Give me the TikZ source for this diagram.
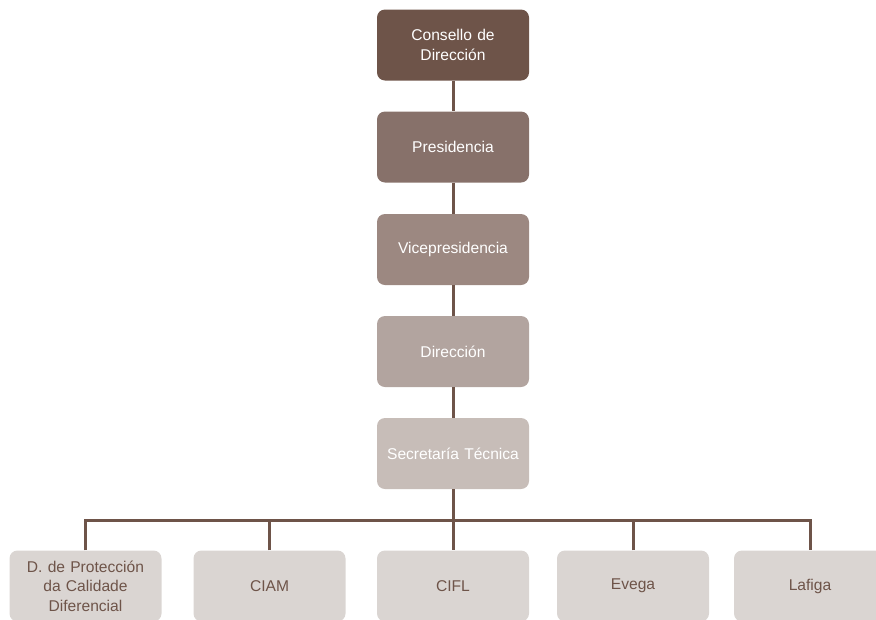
\documentclass[tikz,border=0pt]{standalone}
\usepackage{fontspec}
\setmainfont{Liberation Sans}
\definecolor{cA}{HTML}{6E5449}
\definecolor{cB}{HTML}{87716A}
\definecolor{cC}{HTML}{9C8881}
\definecolor{cD}{HTML}{B2A49F}
\definecolor{cE}{HTML}{C7BDB8}
\definecolor{cF}{HTML}{DAD5D2}
\definecolor{lineC}{HTML}{6E5449}
\tikzset{
  box/.style={rounded corners=8pt, minimum width=152pt, minimum height=71pt, inner xsep=1pt, inner ysep=2pt,
    text width=150pt, align=center, font=\fontsize{15.6}{19.5}\selectfont, text=white},
  low/.style={box, fill=cF, text=lineC},
  conn/.style={draw=lineC, line width=3pt}
}
\begin{document}
\begin{tikzpicture}[x=1pt,y=1pt]
\useasboundingbox (0,0) rectangle (876,-619);
\clip (0,0) rectangle (876,-619);
\node[box, fill=cA] (n1) at (453,-45) {Consello de\\Dirección};
\node[box, fill=cB] (n2) at (453,-147) {Presidencia};
\node[box, fill=cC] (n3) at (453,-249.5) {Vicepresidencia};
\node[box, fill=cD] (n4) at (453,-351.5) {Dirección};
\node[box, fill=cE] (n5) at (453,-453.5) {Secretaría Técnica};
\node[low] (b1) at (85.5,-586) {D. de Protección\\da Calidade\\Diferencial};
\node[low] (b2) at (269.5,-586) {CIAM};
\node[low] (b3) at (453,-586) {CIFL};
\node[low] (b4) at (633,-586) {Evega};
\node[low] (b5) at (810,-586) {Lafiga};
\coordinate (bus) at (453,-520);
\draw[conn] (n1.south) -- (n2.north);
\draw[conn] (n2.south) -- (n3.north);
\draw[conn] (n3.south) -- (n4.north);
\draw[conn] (n4.south) -- (n5.north);
\draw[conn] (n5.south) -- (b3.north);
\draw[conn] (b1.north) |- (bus) -| (b5.north);
\draw[conn] (b2.north) -- (b2.north |- bus);
\draw[conn] (b4.north) -- (b4.north |- bus);
\end{tikzpicture}
\end{document}
